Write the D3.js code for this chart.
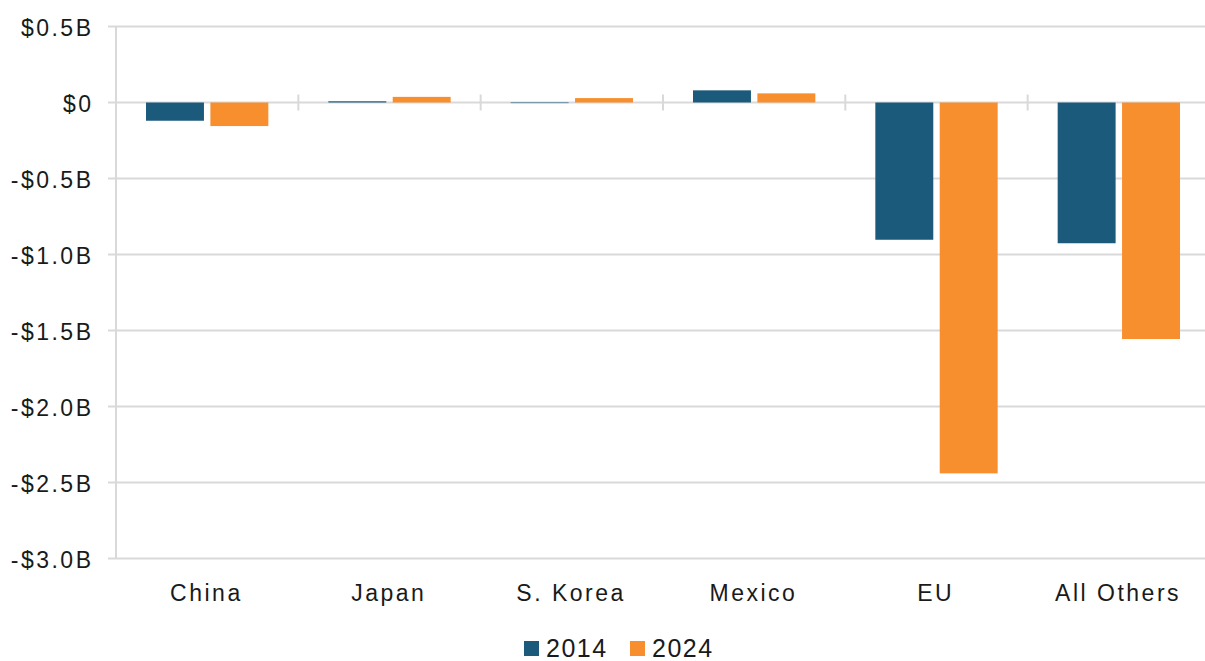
<!DOCTYPE html>
<html>
<head>
<meta charset="utf-8">
<script src="https://cdn.jsdelivr.net/npm/d3@7/dist/d3.min.js"></script>
<style>
  html, body { margin: 0; padding: 0; background: #fff; }
  text { font-family: "Liberation Sans", "DejaVu Sans", sans-serif; fill: #1a1a1a; }
</style>
</head>
<body>
<svg id="chart" width="1205" height="661"></svg>
<script>
// Trade balance by partner, in billions of dollars
const categories = ["China", "Japan", "S. Korea", "Mexico", "EU", "All Others"];
const series2014 = [-0.12, 0.008, -0.004, 0.08, -0.903, -0.926];
const series2024 = [-0.155, 0.037, 0.029, 0.06, -2.44, -1.556];
const seriesNames = ["2014", "2024"];
const seriesColors = ["#1c5a7c", "#f78f2e"];
const yTicks = [0.5, 0, -0.5, -1.0, -1.5, -2.0, -2.5, -3.0];
const yTickLabels = ["$0.5B", "$0", "-$0.5B", "-$1.0B", "-$1.5B", "-$2.0B", "-$2.5B", "-$3.0B"];

const svg = d3.select("#chart");
const plot = { left: 116, right: 1210, top: 26.5, bottom: 558.5 };

const x = d3.scaleBand().domain(categories).range([plot.left, plot.right]).paddingInner(0).paddingOuter(0);
const y = d3.scaleLinear().domain([-3.0, 0.5]).range([plot.bottom, plot.top]);
const inner = d3.scaleBand().domain(seriesNames).range([30, x.bandwidth() - 30]).paddingInner(0.1);

// horizontal gridlines
svg.append("g").selectAll("line").data(yTicks).join("line")
  .attr("x1", plot.left - 8).attr("x2", 1205)
  .attr("y1", d => y(d)).attr("y2", d => y(d))
  .attr("stroke", "#d9d9d9").attr("stroke-width", 2);

// vertical axis line
svg.append("line")
  .attr("x1", plot.left).attr("x2", plot.left).attr("y1", plot.top).attr("y2", plot.bottom)
  .attr("stroke", "#d9d9d9").attr("stroke-width", 2);

// y tick labels
const labelSpacing = 2.5;
svg.append("g").selectAll("text").data(yTicks).join("text")
  .attr("x", 91 + labelSpacing).attr("y", d => y(d) + 9)
  .attr("text-anchor", "end").attr("font-size", 23)
  .attr("letter-spacing", labelSpacing)
  .text((d, i) => yTickLabels[i]);

// bars
const data = categories.map((c, i) => ({ c, vals: [series2014[i], series2024[i]] }));
const groups = svg.append("g").selectAll("g").data(data).join("g")
  .attr("transform", d => `translate(${x(d.c)},0)`);
groups.selectAll("rect").data(d => d.vals.map((v, j) => ({ v, s: seriesNames[j], color: seriesColors[j] })))
  .join("rect")
  .attr("x", d => inner(d.s))
  .attr("width", inner.bandwidth())
  .attr("y", d => Math.min(y(d.v), y(0)))
  .attr("height", d => Math.abs(y(d.v) - y(0)))
  .attr("fill", d => d.color);

// category separator ticks on the zero line
svg.append("g").selectAll("line").data(categories.slice(1)).join("line")
  .attr("x1", d => x(d)).attr("x2", d => x(d))
  .attr("y1", y(0) - 8).attr("y2", y(0) + 8)
  .attr("stroke", "#d9d9d9").attr("stroke-width", 2);

// category labels
svg.append("g").selectAll("text").data(categories).join("text")
  .attr("x", d => x(d) + x.bandwidth() / 2 - 2 + labelSpacing / 2)
  .attr("y", 601).attr("text-anchor", "middle").attr("font-size", 23)
  .attr("letter-spacing", labelSpacing)
  .text(d => d);

// legend
const legend = svg.append("g").attr("transform", "translate(524,640)");
const legendX = [0, 106];
seriesNames.forEach((s, i) => {
  legend.append("rect").attr("x", legendX[i]).attr("y", 1).attr("width", 15).attr("height", 15).attr("fill", seriesColors[i]);
  legend.append("text").attr("x", legendX[i] + 22).attr("y", 17).attr("font-size", 25)
    .attr("letter-spacing", 1.5).text(s);
});
</script>
</body>
</html>
